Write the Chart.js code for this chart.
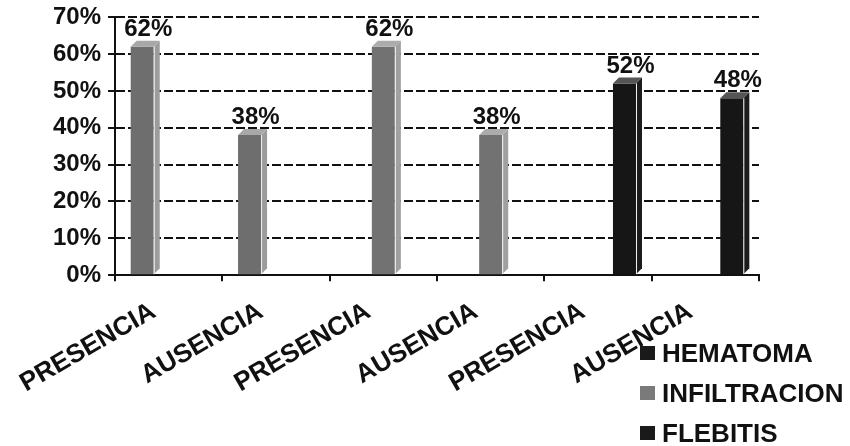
<!DOCTYPE html>
<html>
<head>
<meta charset="utf-8">
<script src="https://cdn.jsdelivr.net/npm/chart.js@4/dist/chart.umd.min.js"></script>
<style>
  html, body { margin: 0; padding: 0; background: #fff; }
  #wrap { position: relative; width: 850px; height: 446px; }
  #legend { position: absolute; left: 640px; top: 333px; font-family: "Liberation Sans", Arial, sans-serif; font-weight: bold; font-size: 26px; color: #111; }
  #legend .item { display: flex; align-items: center; height: 40px; }
  #legend .box { width: 15px; height: 14px; margin-right: 7px; }
</style>
</head>
<body>
<div id="wrap">
  <canvas id="c" width="850" height="446"></canvas>
  <div id="legend"></div>
</div>
<script>
// Categories and series values (percent)
const categories = ['PRESENCIA', 'AUSENCIA', 'PRESENCIA', 'AUSENCIA', 'PRESENCIA', 'AUSENCIA'];
const seriesNames = ['HEMATOMA', 'INFILTRACION', 'FLEBITIS'];
const hematoma = [62, 38, null, null, null, null];
const infiltracion = [null, null, 62, 38, null, null];
const flebitis = [null, null, null, null, 52, 48];
const yTicks = [0, 10, 20, 30, 40, 50, 60, 70];

const barColors = ['#6e6e6e', '#727272', '#161616'];
const sideColors = ['#9c9c9c', '#a0a0a0', '#1c1c1c'];
const topColors = ['#a8a8a8', '#acacac', '#555555'];
const legendColors = ['#1a1a1a', '#7a7a7a', '#1a1a1a'];

const FONT = '"Liberation Sans", Arial, sans-serif';
Chart.defaults.font.family = FONT;
Chart.defaults.font.weight = 'bold';
Chart.defaults.color = '#111';

// Draws a shallow side and top face on each bar for a 3D column look
const depthFaces = {
  id: 'depthFaces',
  afterDatasetsDraw(chart) {
    const ctx = chart.ctx;
    const d = 6;
    chart.data.datasets.forEach((ds, di) => {
      const meta = chart.getDatasetMeta(di);
      meta.data.forEach((bar, i) => {
        if (ds.data[i] == null) return;
        const p = bar.getProps(['x', 'y', 'base', 'width'], true);
        const l = p.x - p.width / 2, r = p.x + p.width / 2;
        ctx.save();
        // side face
        ctx.fillStyle = sideColors[di];
        ctx.beginPath();
        ctx.moveTo(r, p.y);
        ctx.lineTo(r + d, p.y - d);
        ctx.lineTo(r + d, p.base - d);
        ctx.lineTo(r, p.base);
        ctx.closePath();
        ctx.fill();
        // top face
        ctx.fillStyle = topColors[di];
        ctx.beginPath();
        ctx.moveTo(l, p.y);
        ctx.lineTo(l + d, p.y - d);
        ctx.lineTo(r + d, p.y - d);
        ctx.lineTo(r, p.y);
        ctx.closePath();
        ctx.fill();
        // edge highlight
        ctx.strokeStyle = '#f4f4f4';
        ctx.lineWidth = 1;
        ctx.beginPath();
        ctx.moveTo(r + 0.5, p.base);
        ctx.lineTo(r + 0.5, p.y);
        ctx.stroke();
        ctx.restore();
      });
    });
  }
};

// Value labels above each bar
const valueLabels = {
  id: 'valueLabels',
  afterDatasetsDraw(chart) {
    const ctx = chart.ctx;
    ctx.save();
    ctx.font = 'bold 24px ' + FONT;
    ctx.fillStyle = '#111';
    ctx.textAlign = 'center';
    ctx.textBaseline = 'alphabetic';
    chart.data.datasets.forEach((ds, di) => {
      const meta = chart.getDatasetMeta(di);
      meta.data.forEach((bar, i) => {
        const v = ds.data[i];
        if (v == null) return;
        ctx.fillText(v + '%', bar.x + 6, bar.y - 11);
      });
    });
    ctx.restore();
  }
};

const chart = new Chart(document.getElementById('c'), {
  type: 'bar',
  data: {
    labels: categories,
    datasets: [
      { label: seriesNames[0], data: hematoma, backgroundColor: barColors[0] },
      { label: seriesNames[1], data: infiltracion, backgroundColor: barColors[1] },
      { label: seriesNames[2], data: flebitis, backgroundColor: barColors[2] }
    ]
  },
  options: {
    responsive: false,
    animation: false,
    categoryPercentage: 0.74,
    barPercentage: 0.87,
    layout: { padding: { left: 46, right: 91, top: 0, bottom: 32 } },
    plugins: {
      legend: { display: false },
      tooltip: { enabled: false }
    },
    scales: {
      x: {
        grid: {
          offset: true,
          drawOnChartArea: true,
          color: (c) => (c.index === categories.length ? '#111' : 'rgba(0,0,0,0)'),
          lineWidth: 2,
          tickColor: '#111',
          tickWidth: 2,
          tickLength: 6
        },
        border: { display: true, color: '#111', width: 2, dash: [8, 3] },
        ticks: {
          font: { size: 26, weight: 'bold' },
          color: '#111',
          minRotation: 30,
          maxRotation: 30,
          padding: 15,
          labelOffset: -15,
          autoSkip: false
        }
      },
      y: {
        min: 0,
        max: 70,
        afterBuildTicks: (axis) => { axis.ticks = yTicks.map(v => ({ value: v })); },
        grid: {
          color: '#111',
          lineWidth: 2,
          tickColor: '#111',
          tickWidth: 2,
          tickLength: 7,
          tickBorderDash: []
        },
        border: { display: true, color: '#111', width: 2, dash: [9, 3] },
        ticks: {
          font: { size: 24, weight: 'bold', lineHeight: 0.85 },
          color: '#111',
          padding: 7,
          callback: (v) => v + '%'
        }
      }
    }
  },
  plugins: [depthFaces, valueLabels]
});

// Legend list built from the series names
const legendEl = document.getElementById('legend');
seriesNames.forEach((name, i) => {
  const item = document.createElement('div');
  item.className = 'item';
  const box = document.createElement('span');
  box.className = 'box';
  box.style.background = legendColors[i];
  const txt = document.createElement('span');
  txt.textContent = name;
  item.appendChild(box);
  item.appendChild(txt);
  legendEl.appendChild(item);
});
</script>
</body>
</html>
